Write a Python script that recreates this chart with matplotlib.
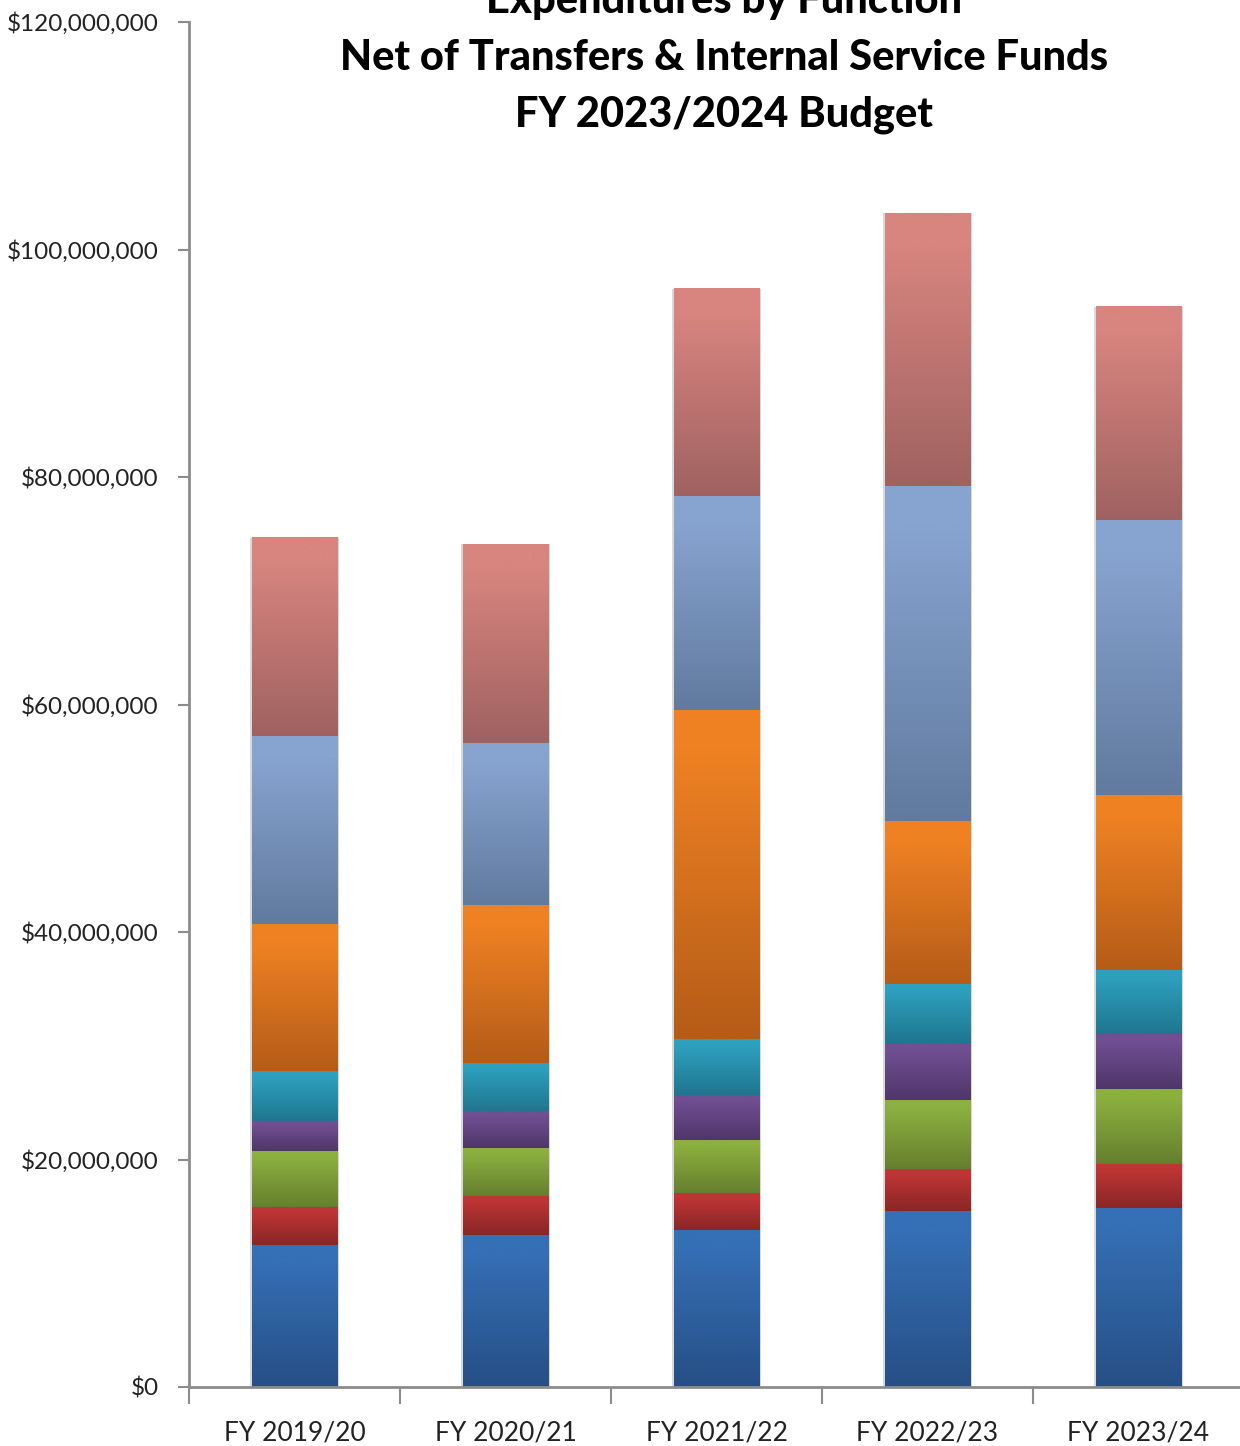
import numpy as np
import matplotlib
matplotlib.use("Agg")
import matplotlib.pyplot as plt
from matplotlib.colors import to_rgb
from matplotlib.ticker import FuncFormatter, FixedLocator

plt.rcParams['font.family'] = ['Lato', 'DejaVu Sans']

years = ['FY 2019/20', 'FY 2020/21', 'FY 2021/22', 'FY 2022/23', 'FY 2023/24']

# function totals per year, in millions (stacked bottom to top)
seg_blue = [12.48, 13.36, 13.80, 15.47, 15.74]
seg_red = [3.34, 3.43, 3.25, 3.69, 3.86]
seg_green = [4.93, 4.22, 4.66, 6.07, 6.60]
seg_purple = [2.63, 3.25, 3.96, 5.01, 4.83]
seg_teal = [4.40, 4.22, 4.92, 5.19, 5.63]
seg_orange = [12.92, 13.89, 28.93, 14.33, 15.38]
seg_ltblue = [16.53, 14.25, 18.81, 29.45, 24.18]
seg_pink = [17.41, 17.49, 18.20, 24.00, 18.73]

series = [seg_blue, seg_red, seg_green, seg_purple, seg_teal,
          seg_orange, seg_ltblue, seg_pink]

# (top colour, bottom colour) for the vertical gradient of each series
shades = [('#356fb5', '#264f85'),
          ('#bf3535', '#8a2626'),
          ('#8cb03f', '#667f2e'),
          ('#704f93', '#4f3669'),
          ('#2ea0bf', '#1f768e'),
          ('#ef8123', '#b55c18'),
          ('#87a3d0', '#617a9e'),
          ('#d8847f', '#9f6260')]

fig = plt.figure(figsize=(12.4, 14.46), dpi=100)
ax = fig.add_axes([189 / 1240, 59 / 1446, 1055 / 1240, 1365 / 1446])

x = np.arange(len(years))
width = 0.403


def gradient(top, bottom, n=200):
    t = np.linspace(0, 1, n)
    # hold the light shade briefly, then darken towards the bottom
    t = np.clip((t - 0.12) / 0.88, 0, 1)
    c0, c1 = np.array(to_rgb(top)), np.array(to_rgb(bottom))
    return (c0[None, :] * (1 - t[:, None]) + c1[None, :] * t[:, None])[:, None, :]


# soft shadow behind each full bar
totals = np.sum(series, axis=0) * 1e6
ax.bar(x, totals, width=width + 0.018, color='#d9d9d9', zorder=1)

bottoms = np.zeros(len(years))
for vals, (top_c, bot_c) in zip(series, shades):
    vals = np.array(vals) * 1e6
    bars = ax.bar(x, vals, width=width, bottom=bottoms, color='none', zorder=2)
    img = gradient(top_c, bot_c)
    for b in bars:
        x0, y0 = b.get_x(), b.get_y()
        ax.imshow(img, extent=(x0, x0 + b.get_width(), y0, y0 + b.get_height()),
                  aspect='auto', origin='upper', zorder=2, interpolation='bilinear')
    bottoms += vals

ax.set_xlim(-0.5, 4.5)
ax.set_ylim(0, 120e6)

ax.yaxis.set_major_locator(FixedLocator(np.arange(0, 120e6 + 1, 20e6)))
ax.yaxis.set_major_formatter(FuncFormatter(lambda v, p: f'${v:,.0f}'))
ax.tick_params(axis='y', length=8, width=1.5, color='#8c8c8c', labelsize=17.5,
               labelcolor='#222222', pad=14)

ax.set_xticks(x)
ax.set_xticklabels(years)
ax.set_xticks(np.arange(-0.5, 5, 1), minor=True)
ax.tick_params(axis='x', which='major', length=0, labelsize=19,
               labelcolor='#222222', pad=24)
ax.tick_params(axis='x', which='minor', length=12, width=1.5, color='#8c8c8c')

for side in ('top', 'right'):
    ax.spines[side].set_visible(False)
for side in ('left', 'bottom'):
    ax.spines[side].set_color('#8c8c8c')
    ax.spines[side].set_linewidth(2)

title_lines = ['Expenditures by Function',
               'Net of Transfers & Internal Service Funds',
               'FY 2023/2024 Budget']
for i, line in enumerate(title_lines):
    fig.text(724 / 1240, 1 - (1 + 57 * i) / 1446, line, ha='center', va='center',
             fontsize=30, fontweight='black', color='#000000')

fig.savefig('out.png', dpi=100)
